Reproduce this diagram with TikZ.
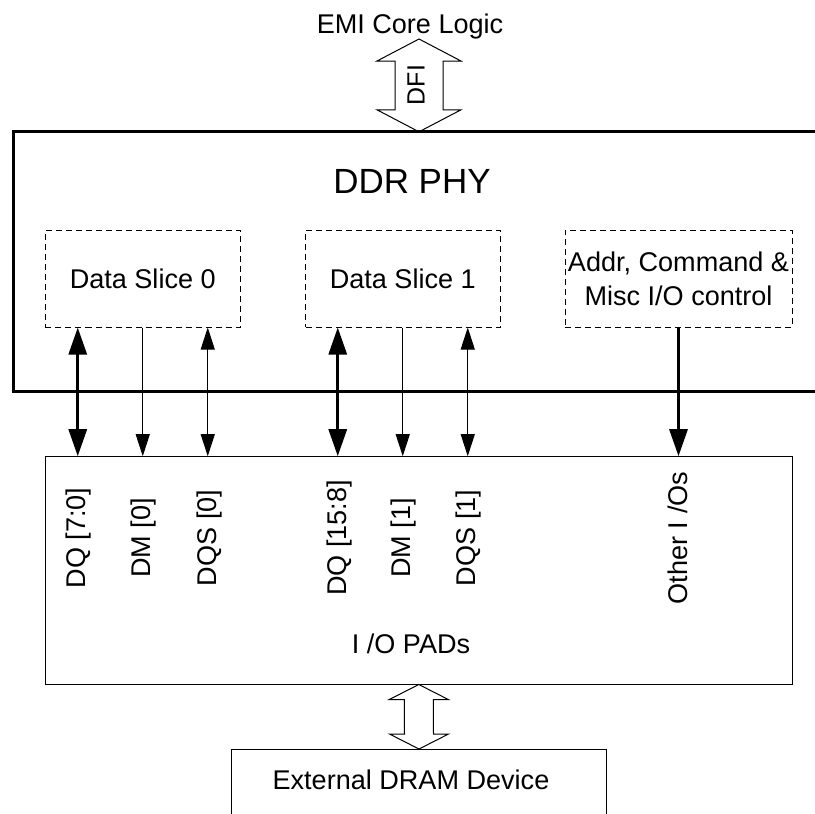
\documentclass[tikz,border=0pt]{standalone}
\usepackage{fontspec}
\setmainfont{Liberation Sans}
\usetikzlibrary{positioning, calc, arrows.meta}

\tikzset{
  lbl/.style={font=\fontsize{15.4}{19.4}\selectfont, inner sep=0},
  slicebox/.style={draw, line width=0.2mm, dash pattern=on 1.2mm off 0.8mm,
    minimum width=38.9mm, minimum height=19.4mm, inner sep=0, align=center, lbl},
  padbox/.style={draw, line width=0.2mm, inner sep=0},
  bigtip/.tip={Triangle[length=5.4mm, width=3.6mm]},
  smalltip/.tip={Triangle[length=4.4mm, width=2.8mm]},
  bus/.style={line width=0.6mm, bigtip-bigtip},
  busdown/.style={line width=0.6mm, -bigtip},
  sig/.style={line width=0.2mm, smalltip-smalltip},
  sigdown/.style={line width=0.2mm, -smalltip},
  fatbus/.style={draw, line width=0.2mm, fill=white, line join=miter}
}

% hollow double arrow: top, bottom, shaft half width, head half width, head length
\newcommand{\busarrow}[5]{%
  \draw[fatbus] (#1) -- ($(#1)+(#4,#5)$) -- ($(#1)+(#3,#5)$) -- ($(#2)+(#3,-#5)$)
    -- ($(#2)+(#4,-#5)$) -- (#2) -- ($(#2)+(-#4,-#5)$) -- ($(#2)+(-#3,-#5)$)
    -- ($(#1)+(-#3,#5)$) -- ($(#1)+(-#4,#5)$) -- cycle;}

\begin{document}
\begin{tikzpicture}[x=0.2mm, y=-0.2mm]

        \useasboundingbox (0,0) rectangle (815,813);

        % Core logic and DFI
        \node[lbl, anchor=base] (emi) at (410,33.3) {EMI Core Logic};
        \coordinate (dfitop) at (419,39);
        \coordinate (phytop) at (419,131.8);
        \busarrow{dfitop}{phytop}{24}{42}{22}
        \node[lbl, font=\fontsize{14.2}{17}\selectfont, rotate=90] (dfi) at (416,85) {DFI};

        % PHY outline
        \draw[line width=0.6mm] (820,131.8) -- (13.2,131.8) -- (13.2,391.7) -- (820,391.7);
        \node[lbl, font=\fontsize{19.9}{24}\selectfont, anchor=base] (phy) at (412,193) {DDR PHY};

        % Slices
        \node[slicebox] (slice0) at (142.75,278.5) {Data Slice 0};
        \node[slicebox] (slice1) at (402.75,278.5) {Data Slice 1};
        \node[slicebox, minimum width=45.4mm] (ctrl) at (678.5,278.5) {Addr, Command \&\\Misc I/O control};

        % Pads
        \node[padbox, minimum width=149.4mm, minimum height=45.46mm] (io) at (418.8,570.35) {};
        \node[lbl, anchor=base] (iolbl) at (411,653.5) {I /O PADs};

        \node[lbl, rotate=90] (dq0) at (79,538) {DQ [7:0]};
        \node[lbl, rotate=90] (dm0) at (144,538) {DM [0]};
        \node[lbl, rotate=90] (dqs0) at (209,538) {DQS [0]};
        \node[lbl, rotate=90] (dq1) at (339,538) {DQ [15:8]};
        \node[lbl, rotate=90] (dm1) at (403.7,538) {DM [1]};
        \node[lbl, rotate=90] (dqs1) at (468.8,538) {DQS [1]};
        \node[lbl, rotate=90] (other) at (678,538) {Other I /Os};

        % Slice to pad signals
        \draw[bus] ($(slice0.south)+(-65,0)$) -- ($(slice0.south |- io.north)+(-65,0)$);
        \draw[sigdown] (slice0.south) -- (slice0.south |- io.north);
        \draw[sig] ($(slice0.south)+(65,0)$) -- ($(slice0.south |- io.north)+(65,0)$);
        \draw[bus] ($(slice1.south)+(-65,0)$) -- ($(slice1.south |- io.north)+(-65,0)$);
        \draw[sigdown] (slice1.south) -- (slice1.south |- io.north);
        \draw[sig] ($(slice1.south)+(65,0)$) -- ($(slice1.south |- io.north)+(65,0)$);
        \draw[busdown] (ctrl.south) -- (ctrl.south |- io.north);

        % External device
        \node[padbox, anchor=north, minimum width=74.8mm, minimum height=20mm] (dram) at (419,749) {};
        \node[lbl, anchor=base] (dramlbl) at (411,789) {External DRAM Device};
        \busarrow{io.south}{dram.north}{14.5}{29.5}{15}

\end{tikzpicture}
\end{document}
